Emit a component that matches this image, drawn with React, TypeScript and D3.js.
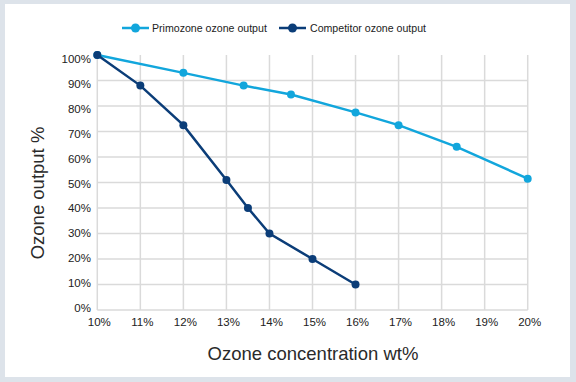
import React from "react";
import * as d3 from "d3";

const xTicks = [10, 11, 12, 13, 14, 15, 16, 17, 18, 19, 20];
const yTicks = [0, 10, 20, 30, 40, 50, 60, 70, 80, 90, 100];
const primozoneX = [10, 12, 13.4, 14.5, 16, 17, 18.35, 20];
const primozoneY = [100, 93, 88, 84.5, 77.5, 72.5, 64, 51.5];
const competitorX = [10, 11, 12, 13, 13.5, 14, 15, 16];
const competitorY = [100, 88, 72.5, 51, 40, 30, 20, 10];
const seriesNames = ["Primozone ozone output", "Competitor ozone output"];
const seriesColors = ["#12a6dc", "#0b3d78"];

const W = 576;
const H = 382;
const FONT = "'Liberation Sans', Arial, sans-serif";

export default function App() {
  const x = d3.scaleLinear().domain([10, 20]).range([97.3, 527.7]);
  const y = d3.scaleLinear().domain([0, 100]).range([310, 55]);
  const line = d3
    .line<[number, number]>()
    .x((d) => x(d[0]))
    .y((d) => y(d[1]));
  const series = [
    primozoneX.map((v, i) => [v, primozoneY[i]] as [number, number]),
    competitorX.map((v, i) => [v, competitorY[i]] as [number, number]),
  ];
  const legend = [
    { lx: 122, tx: 152 },
    { lx: 279, tx: 310 },
  ];
  return (
    <svg
      width={W}
      height={H}
      style={{ position: "absolute", left: 0, top: 0, display: "block" }}
      fontFamily={FONT}
    >
      <rect x={0} y={0} width={W} height={H} fill="#dde3ea" />
      <rect x={5} y={4} width={565} height={373} fill="#ffffff" />
      {/* grid */}
      {yTicks
        .filter((t) => t < 100)
        .map((t) => (
          <line
            key={"h" + t}
            x1={x(10)}
            x2={x(20)}
            y1={y(t)}
            y2={y(t)}
            stroke="#dadada"
            strokeWidth={1.5}
          />
        ))}
      {xTicks.map((t) => (
        <line
          key={"v" + t}
          x1={x(t)}
          x2={x(t)}
          y1={y(100)}
          y2={y(0)}
          stroke="#dadada"
          strokeWidth={1.5}
        />
      ))}
      {/* y labels */}
      {yTicks.map((t) => (
        <text
          key={"yl" + t}
          x={91}
          y={y(t) - 2 + (t / 100) * 6}
          dy="0.35em"
          textAnchor="end"
          fontSize={11.5}
          fill="#222"
        >
          {t}%
        </text>
      ))}
      {/* x labels */}
      {xTicks.map((t) => (
        <text
          key={"xl" + t}
          x={x(t) + 2}
          y={322}
          dy="0.35em"
          textAnchor="middle"
          fontSize={11.5}
          fill="#222"
        >
          {t}%
        </text>
      ))}
      {/* series */}
      {series.map((s, i) => (
        <g key={"s" + i}>
          <path d={line(s) || ""} fill="none" stroke={seriesColors[i]} strokeWidth={2.5} />
          {s.map((d, j) => (
            <circle key={j} cx={x(d[0])} cy={y(d[1])} r={4} fill={seriesColors[i]} />
          ))}
        </g>
      ))}
      {/* legend */}
      {legend.map((l, i) => (
        <g key={"lg" + i}>
          <line x1={l.lx} x2={l.lx + 27} y1={28} y2={28} stroke={seriesColors[i]} strokeWidth={2.5} />
          <circle cx={l.lx + 13.5} cy={28} r={4.5} fill={seriesColors[i]} />
          <text x={l.tx} y={28} dy="0.35em" fontSize={10.6} fill="#222">
            {seriesNames[i]}
          </text>
        </g>
      ))}
      {/* axis titles */}
      <text x={313} y={354} dy="0.35em" textAnchor="middle" fontSize={18.5} fill="#2a2a2a">
        Ozone concentration wt%
      </text>
      <text
        transform={`translate(38,193) rotate(-90)`}
        dy="0.35em"
        textAnchor="middle"
        fontSize={18.5}
        fill="#2a2a2a"
      >
        Ozone output %
      </text>
    </svg>
  );
}
